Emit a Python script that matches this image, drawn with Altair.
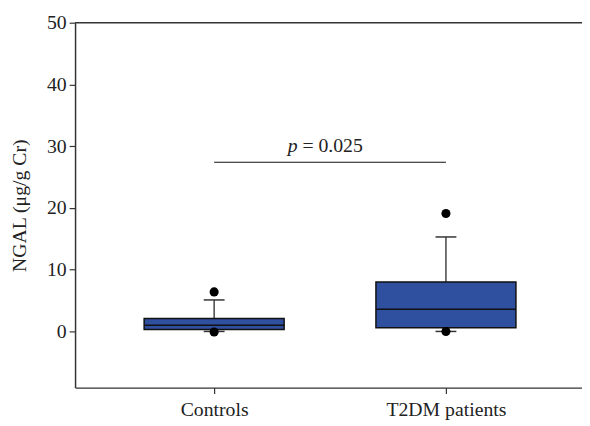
import altair as alt
import pandas as pd

groups = ["Controls", "T2DM patients"]
q1 = [0.3, 0.6]
median = [1.0, 3.6]
q3 = [2.1, 8.0]
whisker_low = [0.0, 0.0]
whisker_high = [5.1, 15.3]
outlier_group = ["Controls", "Controls", "T2DM patients", "T2DM patients"]
outlier_value = [6.4, -0.1, 19.1, 0.0]
p_value_y = 27.4
p_text = "= 0.025"
y_ticks = [0, 10, 20, 30, 40, 50]

FONT = "Liberation Serif"
BOX = "#2f4f9f"
HALF = 0.302
CAP = 0.045
FS = 20

pos = {g: i + 1 for i, g in enumerate(groups)}
box = pd.DataFrame({"group": groups, "q1": q1, "median": median, "q3": q3,
                    "lo": whisker_low, "hi": whisker_high})
box["x"] = box["group"].map(pos)
box["xl"] = box["x"] - HALF
box["xr"] = box["x"] + HALF
box["cl"] = box["x"] - CAP
box["cr"] = box["x"] + CAP
out = pd.DataFrame({"group": outlier_group, "value": outlier_value})
out["x"] = out["group"].map(pos)
sig = pd.DataFrame({"x": [1], "x2": [2], "y": [p_value_y], "xm": [1.5]})

label_expr = "datum.value == 1 ? '%s' : '%s'" % (groups[0], groups[1])
xs = alt.Scale(domain=[0.4, 2.587], nice=False, zero=False)
ys = alt.Scale(domain=[-9.1, 50], nice=False, zero=False)

X = alt.X("x:Q", scale=xs, axis=alt.Axis(values=[1, 2], labelExpr=label_expr, title=None,
                                         labelPadding=6, labelFont=FONT, labelFontSize=FS))
Y = alt.Y("lo:Q", scale=ys, axis=alt.Axis(values=y_ticks, title="NGAL (μg/g Cr)", labelPadding=3,
                                          titlePadding=17, labelFont=FONT, labelFontSize=FS))

base = alt.Chart(box)
whisk = base.mark_rule(color="#444", strokeWidth=1.5).encode(x=X, y=Y, y2="hi:Q")
capsH = base.mark_rule(color="#333", strokeWidth=1.5).encode(
    x=alt.X("cl:Q", scale=xs), x2="cr:Q", y=alt.Y("hi:Q", scale=ys))
capsL = base.mark_rule(color="#333", strokeWidth=1.5).encode(
    x=alt.X("cl:Q", scale=xs), x2="cr:Q", y=alt.Y("lo:Q", scale=ys))
boxes = base.mark_rect(fill=BOX, stroke="#111", strokeWidth=1.5).encode(
    x=alt.X("xl:Q", scale=xs), x2="xr:Q", y=alt.Y("q1:Q", scale=ys), y2="q3:Q")
med = base.mark_rule(color="#111", strokeWidth=1.5).encode(
    x=alt.X("xl:Q", scale=xs), x2="xr:Q", y=alt.Y("median:Q", scale=ys))
pts = alt.Chart(out).mark_circle(size=85, color="black", opacity=1).encode(
    x=alt.X("x:Q", scale=xs), y=alt.Y("value:Q", scale=ys))
sigline = alt.Chart(sig).mark_rule(color="#111", strokeWidth=1.2).encode(
    x=alt.X("x:Q", scale=xs), x2="x2:Q", y=alt.Y("y:Q", scale=ys))
ptxt = alt.Chart(sig).mark_text(text="p", font=FONT, fontStyle="italic", fontSize=FS,
                                align="right", baseline="alphabetic", dx=-33, dy=-10, color="#222").encode(
    x=alt.X("xm:Q", scale=xs), y=alt.Y("y:Q", scale=ys))
vtxt = alt.Chart(sig).mark_text(text=p_text, font=FONT, fontSize=FS, align="left",
                                baseline="alphabetic", dx=-28, dy=-10, color="#222").encode(
    x=alt.X("xm:Q", scale=xs), y=alt.Y("y:Q", scale=ys))
top = alt.Chart(sig).mark_rule(color="#333", strokeWidth=1.5).encode(
    x=alt.value(0), x2=alt.value(514), y=alt.value(0))

chart = alt.layer(whisk, capsH, capsL, boxes, med, pts, sigline, ptxt, vtxt, top).properties(
    width=514, height=370,
    autosize=alt.AutoSizeParams(type="none"),
    padding={"left": 68, "top": 12, "right": 0, "bottom": 36},
).configure(background="white", font=FONT).configure_view(stroke=None).configure_axis(
    grid=False, tickSize=6, labelFontSize=FS, labelFont=FONT, labelColor="#222",
    titleFont=FONT, titleFontSize=FS, titleFontWeight="normal", titleColor="#222",
    domainColor="#333", tickColor="#333", domainWidth=1.5, tickWidth=1.2)

chart.save("out.html", embed_options={"renderer": "svg", "actions": False})
